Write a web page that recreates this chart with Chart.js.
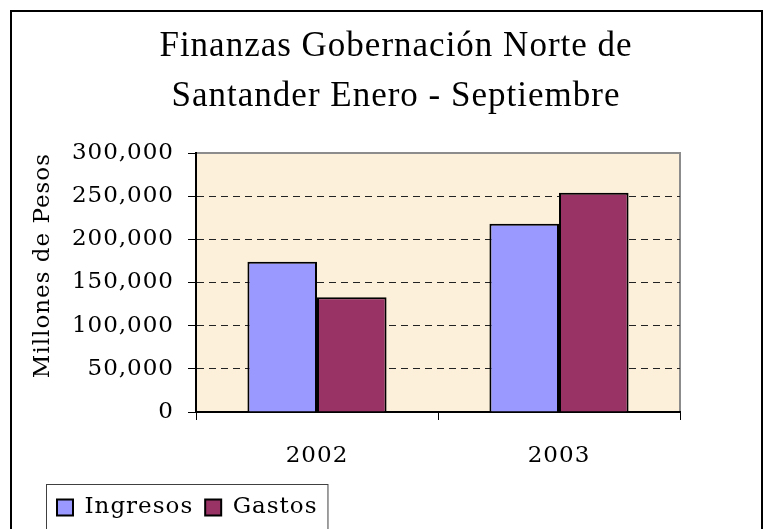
<!DOCTYPE html>
<html>
<head>
<meta charset="utf-8">
<script src="https://cdn.jsdelivr.net/npm/chart.js@4.4.0/dist/chart.umd.min.js"></script>
<style>
  html, body { margin: 0; padding: 0; background: #fff; overflow: hidden; }
  #chart { display: block; }
</style>
</head>
<body>
<canvas id="chart" width="773" height="529"></canvas>
<script>
const chartTitle = ['Finanzas Gobernación Norte de', 'Santander Enero - Septiembre'];
const years = ['2002', '2003'];
const ingresos = [174000, 218000];
const gastos = [133000, 254000];
const yAxisTitle = 'Millones de Pesos';
const yMin = 0;
const yMax = 300000;
const yStep = 50000;

const serif = "'DejaVu Serif', serif";

// letterSpacing is reset whenever the canvas gets resized, so set it again before layout and draw
const spacingPlugin = {
    id: 'spacing',
    beforeLayout(chart) { chart.ctx.letterSpacing = '1px'; },
    beforeDraw(chart) { chart.ctx.letterSpacing = '1px'; }
};

const framePlugin = {
    id: 'frame',
    beforeDraw(chart) {
        const { ctx, chartArea: a, width, height } = chart;
        ctx.save();
        ctx.fillStyle = '#fff';
        ctx.fillRect(0, 0, width, height);

        // outer frame, bottom edge falls outside the picture
        ctx.strokeStyle = '#000';
        ctx.lineWidth = 2;
        ctx.strokeRect(11, 11, width - 22, height + 20);

        // plot area background
        ctx.fillStyle = '#fcf0da';
        ctx.fillRect(a.left, a.top, a.right - a.left, a.bottom - a.top);
        ctx.strokeStyle = '#8c8c8c';
        ctx.lineWidth = 2;
        ctx.beginPath();
        ctx.moveTo(a.left, a.top);
        ctx.lineTo(a.right, a.top);
        ctx.lineTo(a.right, a.bottom);
        ctx.stroke();
        ctx.restore();
    },
    afterDraw(chart) {
        // box round the legend
        const lg = chart.legend;
        const boxes = lg.legendHitBoxes;
        if (!boxes || !boxes.length) return;
        const first = boxes[0];
        const last = boxes[boxes.length - 1];
        const x = first.left - 11;
        const w = last.left + last.width - x + 10;
        const ctx = chart.ctx;
        ctx.save();
        ctx.strokeStyle = '#404040';
        ctx.lineWidth = 1;
        ctx.strokeRect(x + 0.5, lg.top + 0.5, w, chart.height);
        ctx.restore();
    }
};

new Chart(document.getElementById('chart'), {
    type: 'bar',
    data: {
        labels: years,
        datasets: [
            {
                label: 'Ingresos',
                data: ingresos,
                backgroundColor: '#9999ff',
                borderColor: '#000',
                borderWidth: 2
            },
            {
                label: 'Gastos',
                data: gastos,
                backgroundColor: '#993366',
                borderColor: '#000',
                borderWidth: 2
            }
        ]
    },
    options: {
        responsive: false,
        animation: false,
        devicePixelRatio: 1,
        categoryPercentage: 0.575,
        barPercentage: 1.0,
        layout: {
            padding: { left: 45, right: 26, top: 0, bottom: 0 }
        },
        plugins: {
            title: {
                display: true,
                text: chartTitle,
                color: '#000',
                font: { family: "'Liberation Serif', serif", size: 35, weight: 'normal', lineHeight: '50px' },
                padding: { top: 22, bottom: 31 }
            },
            legend: {
                position: 'bottom',
                align: 'start',
                labels: {
                    color: '#000',
                    font: { family: serif, size: 23 },
                    boxWidth: 16,
                    boxHeight: 16,
                    padding: 12
                }
            },
            tooltip: { enabled: false }
        },
        scales: {
            x: {
                offset: true,
                grid: {
                    offset: true,
                    drawOnChartArea: false,
                    drawTicks: true,
                    tickLength: 8,
                    color: '#000',
                    lineWidth: 1
                },
                border: { display: true, color: '#000', width: 2 },
                ticks: {
                    color: '#000',
                    font: { family: serif, size: 23 },
                    padding: 22,
                    maxRotation: 0
                },
                afterFit(s) { s.height = 72; }
            },
            y: {
                min: yMin,
                max: yMax,
                ticks: {
                    stepSize: yStep,
                    color: '#000',
                    font: { family: serif, size: 23 },
                    padding: 14,
                    callback: v => v.toLocaleString('en-US')
                },
                grid: {
                    color: c => (c.tick && (c.tick.value === yMin || c.tick.value === yMax)) ? 'rgba(0,0,0,0)' : '#222',
                    tickColor: '#000',
                    tickLength: 8,
                    tickBorderDash: [],
                    lineWidth: 1
                },
                border: { display: true, color: '#000', width: 2, dash: [7, 5] },
                title: {
                    display: true,
                    text: yAxisTitle,
                    align: 'end',
                    color: '#000',
                    font: { family: serif, size: 23 },
                    padding: { top: -16, bottom: 0 }
                },
                afterFit(s) { s.width = 151; }
            },
            yr: {
                position: 'right',
                display: true,
                grid: { display: false },
                border: { display: false },
                ticks: { display: false },
                afterFit(s) { s.width = 67; }
            }
        }
    },
    plugins: [spacingPlugin, framePlugin]
});
</script>
</body>
</html>
